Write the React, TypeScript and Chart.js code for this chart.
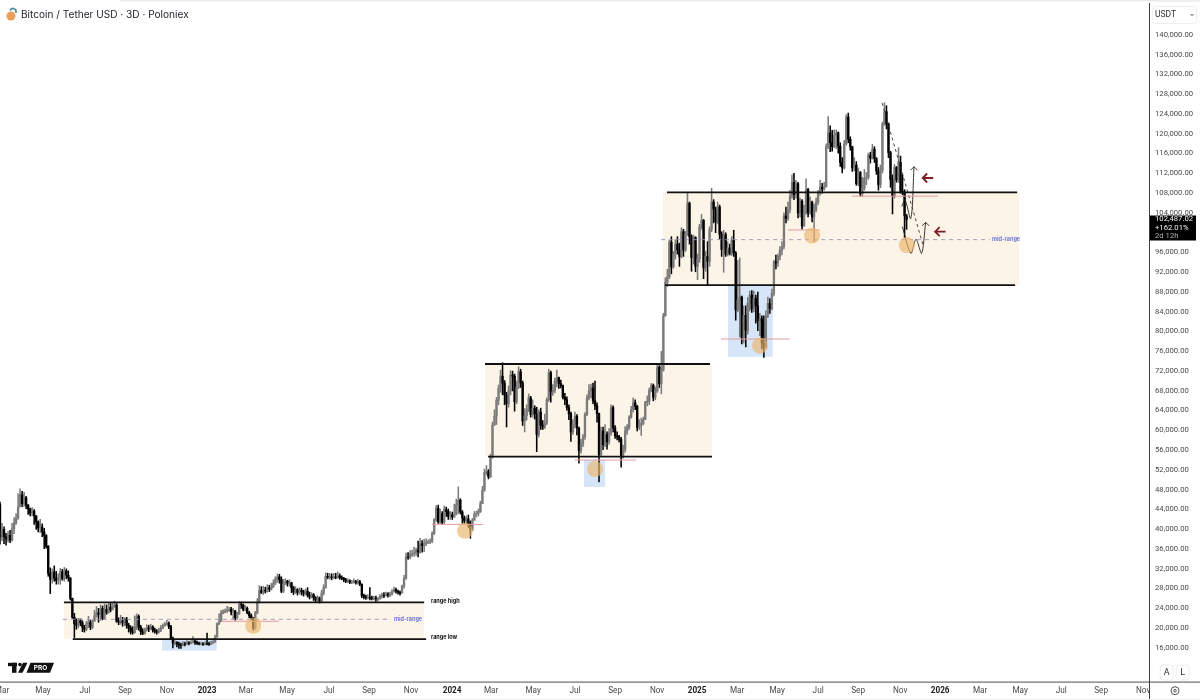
import React, { useRef, useEffect } from 'react';
import { Chart, registerables } from 'chart.js';

Chart.register(...registerables);

// BTCUSDT 3D candles. Opens are the previous close.
const firstOpen = 44800;
const closes = [
  38200, 39800, 38300, 37800, 38600, 37600, 39900, 41100, 42100, 44300,
  46800, 45000, 46200, 44700, 43900, 43100, 43500, 42500, 41300, 40100,
  40300, 39300, 38600, 36400, 30900, 29700, 31200, 29900, 29400, 30100,
  31200, 29800, 31400, 30500, 30000, 25800, 22000, 20700, 20400, 21300,
  20900, 20000, 19600, 20700, 21000, 20000, 21200, 22300, 22900, 22600,
  23800, 21800, 23600, 23000, 24000, 23500, 24300, 24500, 21200, 21000,
  21300, 20900, 21700, 20400, 19800, 19200, 18900, 20100, 22200, 20000,
  19100, 18700, 19400, 19900, 19700, 20100, 19400, 19200, 19000, 19300,
  19800, 20300, 20600, 20800, 20100, 17800, 16800, 16900, 16600, 16400,
  16300, 16600, 16500, 16900, 16700, 16900, 17200, 17000, 16700, 16600,
  16600, 16500, 16700, 16600, 16500, 16800, 17000, 18000, 20700, 21100,
  22900, 23100, 23300, 23400, 23600, 23100, 23300, 21900, 22700, 24600,
  24500, 23600, 23800, 22900, 22300, 21800, 19900, 22900, 25000, 27400,
  27000, 27500, 27300, 28000, 27700, 28200, 28900, 29800, 30200, 29600,
  27300, 28700, 29300, 28900, 29000, 28000, 27100, 27600, 27000, 27400,
  27200, 26800, 27300, 26500, 26100, 26600, 26000, 25500, 25900, 25300,
  26900, 28000, 30300, 30100, 30200, 30000, 30200, 30100, 30400, 30000,
  29900, 29600, 29300, 29400, 29100, 29200, 29300, 29000, 29200, 28700,
  26400, 26100, 26000, 26000, 25900, 25800, 25900, 25700, 25800, 26200,
  26500, 26400, 26700, 26500, 26600, 27200, 27600, 27300, 27100, 26900,
  28300, 29900, 34200, 34100, 34700, 34900, 35000, 35600, 35200, 36900,
  36500, 36900, 37200, 37300, 37400, 39000, 41700, 44100, 41300, 43000,
  41200, 43800, 43400, 42400, 42700, 42300, 42900, 44800, 45700, 43300,
  42100, 41500, 41900, 40800, 39700, 41700, 42900, 43000, 43400, 45000,
  47700, 51300, 51500, 50400, 54400, 60900, 62700, 65900, 68300, 70800,
  69400, 67000, 65200, 67800, 71000, 70800, 65600, 68500, 71700, 69400,
  61700, 62800, 64000, 66400, 63000, 64300, 63200, 59000, 63500, 60900,
  60500, 61300, 66000, 71500, 67600, 67900, 69800, 70500, 69300, 68900,
  66500, 66000, 64500, 63200, 59500, 61000, 62700, 60300, 55700, 57000,
  58500, 63000, 66400, 67800, 68400, 65800, 64800, 63200, 54900, 59700,
  56900, 59000, 57500, 59300, 64400, 60300, 58700, 58500, 58000, 54800,
  56000, 59700, 60400, 62500, 64000, 65400, 64700, 60400, 60900, 61200,
  62000, 65500, 65700, 67900, 68900, 66500, 67800, 72600, 69300, 72000,
  83000, 89800, 90900, 97900, 92900, 95500, 97500, 96300, 95000, 100000,
  96300, 99500, 105800, 99000, 94800, 98800, 93000, 94500, 101000, 102300,
  92700, 95000, 94000, 100500, 106000, 104600, 102000, 105000, 99500, 96400,
  99400, 95400, 96700, 95600, 98300, 95700, 84200, 86200, 86800, 78500,
  83100, 80000, 85500, 87200, 84400, 86500, 85000, 82000, 82400, 77500,
  76700, 83000, 85500, 84500, 87500, 93900, 93700, 95000, 96300, 97000,
  103200, 102700, 104500, 107200, 110000, 107500, 109700, 103800, 106200, 101200,
  103800, 108500, 103800, 106000, 103000, 104500, 106000, 107800, 109000, 108600,
  109100, 117200, 120000, 118000, 117200, 119500, 120000, 117300, 114000, 112900,
  117800, 123200, 118700, 117200, 112900, 113500, 109700, 112000, 107700, 108800,
  110800, 111000, 115500, 114900, 116700, 114800, 112300, 109500, 112500, 121800,
  124300, 121800, 116000, 110600, 107200, 113000, 110500, 114000, 108200, 108000,
  103200, 102487,
];
const highs = [
  45300, 41000, 40300, 39000, 39400, 39600, 41000, 42200, 43000, 47000,
  48000, 47500, 47300, 46500, 44800, 44100, 44200, 43800, 42600, 41500,
  41800, 40900, 40000, 38700, 36500, 32000, 31800, 32400, 31300, 30800,
  31900, 31700, 32100, 31800, 31400, 30000, 25900, 22800, 21700, 21800,
  21700, 21300, 20400, 21200, 22200, 21400, 21500, 23400, 24200, 23800,
  24500, 24300, 24700, 24500, 24900, 24800, 25000, 25300, 24800, 21900,
  22400, 22000, 21900, 22000, 20800, 20300, 20100, 22300, 22700, 22500,
  20400, 19700, 19800, 20500, 20400, 20600, 20300, 19800, 19500, 19800,
  20400, 20700, 21000, 21400, 21100, 20400, 18000, 17300, 17100, 17000,
  16800, 17100, 17000, 17300, 17100, 17300, 18100, 17500, 17200, 17000,
  17000, 16900, 17100, 18800, 17000, 17200, 17300, 18400, 20900, 22700,
  23400, 23500, 23700, 24200, 24000, 24000, 23800, 23400, 23000, 25200,
  25100, 24700, 24400, 24100, 23200, 22700, 22000, 23200, 25800, 28400,
  28200, 28300, 28100, 28600, 28500, 28900, 29600, 30200, 30800, 30700,
  30200, 29700, 29800, 29500, 29600, 29100, 28300, 28200, 27800, 28000,
  27900, 27500, 27700, 28000, 27100, 27000, 26800, 26200, 26400, 26100,
  27500, 28600, 31000, 30900, 30900, 30800, 30900, 30900, 31200, 30800,
  30400, 30100, 29900, 29800, 29600, 29500, 29800, 29500, 29700, 29500,
  28800, 26700, 26500, 26600, 28000, 26300, 26300, 26300, 26000, 26600,
  26900, 27000, 27100, 27000, 27100, 27600, 28100, 27900, 27500, 27300,
  28500, 30500, 35000, 35100, 35500, 35600, 36200, 36000, 37400, 38000,
  37500, 37800, 37900, 37700, 37900, 39300, 42000, 44600, 44700, 43900,
  43400, 44500, 44300, 43900, 43400, 43300, 44900, 45900, 48400, 46000,
  43600, 42500, 42500, 42700, 41500, 42000, 43400, 43500, 43900, 45500,
  48500, 52000, 52700, 51900, 55000, 61500, 64000, 66500, 69000, 72000,
  73500, 69900, 67500, 68800, 71900, 71800, 71200, 69800, 72700, 72200,
  69800, 64200, 65000, 67200, 66700, 66000, 64800, 64500, 64000, 64300,
  61800, 63100, 66400, 72200, 71800, 69100, 70400, 72000, 70600, 70000,
  69000, 67300, 66600, 65000, 63500, 62000, 63500, 63000, 60500, 58000,
  59000, 63400, 67000, 69100, 69200, 69400, 69800, 65400, 63300, 60500,
  60500, 61000, 59500, 60200, 65000, 64800, 60800, 59500, 58800, 58400,
  56800, 60600, 61000, 62800, 64700, 66400, 66000, 64900, 62000, 62300,
  62500, 65700, 66800, 68400, 69300, 69200, 68600, 73200, 72900, 75800,
  83500, 90700, 92400, 98300, 99000, 96000, 98400, 99000, 97700, 100800,
  100500, 100100, 108000, 106000, 99400, 99300, 99000, 95500, 101500, 103500,
  102500, 96000, 98000, 101000, 108800, 106500, 105000, 106000, 105400, 100000,
  100300, 99800, 98000, 97500, 99000, 100300, 96000, 94200, 94700, 87000,
  85000, 85000, 86700, 88000, 88100, 88000, 87200, 87800, 83500, 83000,
  83000, 84000, 86800, 86500, 88400, 94200, 95300, 95500, 97000, 98000,
  103800, 105000, 106000, 108400, 111500, 111800, 110400, 110000, 106800, 106500,
  105400, 110700, 108800, 107000, 106200, 105600, 106800, 108400, 110400, 109800,
  110000, 117800, 123300, 121400, 120500, 120600, 120600, 120200, 118000, 115000,
  118500, 123700, 124000, 119200, 117300, 115000, 114200, 112900, 112200, 111000,
  112600, 112000, 115900, 116100, 117700, 117200, 115000, 113000, 113500, 122200,
  126100, 125500, 122000, 116300, 111500, 113600, 113200, 117000, 115300, 111500,
  108500, 103500,
];
const lows = [
  36800, 37500, 36900, 36600, 37200, 37100, 37400, 38900, 40800, 41800,
  44600, 44400, 44500, 44000, 42800, 42500, 42500, 40800, 39800, 39300,
  39100, 38300, 35900, 36000, 30300, 26800, 28900, 29300, 28700, 28700,
  28700, 29500, 29300, 29800, 29300, 25500, 21800, 17900, 19600, 19900,
  20300, 19100, 19000, 19300, 19900, 19500, 19700, 21200, 22000, 21000,
  21400, 21500, 21700, 22600, 22800, 23100, 23600, 24000, 21000, 20500,
  20600, 20200, 20300, 19800, 19000, 18600, 18600, 18800, 19500, 19400,
  18500, 18500, 18600, 19200, 19100, 19500, 19000, 18800, 18600, 18800,
  19100, 19700, 20200, 20400, 19700, 17700, 15800, 16400, 16000, 15700,
  15700, 16200, 16200, 16500, 16400, 16600, 16800, 16500, 16500, 16400,
  16400, 16300, 16400, 16400, 16300, 16500, 16700, 16900, 18000, 20500,
  22700, 22700, 22900, 23000, 23200, 22500, 21700, 21400, 21600, 22600,
  23800, 23300, 23300, 22700, 21900, 21500, 19400, 19600, 22700, 24900,
  26800, 26600, 26900, 27100, 27200, 27500, 28000, 28600, 29100, 28900,
  27000, 27000, 28600, 28300, 28300, 27000, 26600, 26800, 26500, 26700,
  26500, 26300, 26500, 26100, 25700, 25900, 25400, 25100, 25200, 24900,
  25100, 26500, 27900, 29800, 29700, 29600, 29800, 29800, 29900, 29700,
  29600, 29200, 29000, 29000, 28800, 28800, 28900, 28700, 28700, 28400,
  26000, 25700, 25600, 25700, 25500, 25500, 25500, 25200, 25300, 25600,
  25900, 26000, 26300, 26100, 26200, 26500, 27100, 26900, 26700, 26500,
  26900, 27900, 29700, 33700, 33800, 34300, 34300, 34500, 34200, 35000,
  35200, 35300, 36500, 36900, 36900, 37100, 38700, 41400, 41000, 41000,
  40800, 41000, 42400, 41800, 41800, 41800, 42200, 42700, 43000, 42900,
  41000, 40900, 41000, 40200, 38000, 39500, 41600, 42300, 42500, 43200,
  45000, 47500, 50800, 50000, 50300, 54200, 60800, 61000, 65000, 67500,
  67000, 65000, 60500, 64500, 67000, 67800, 63700, 65200, 68300, 68500,
  60800, 59500, 61900, 63600, 62500, 62500, 62100, 55500, 58500, 60000,
  60000, 60200, 61000, 65700, 65500, 66900, 67400, 68600, 68300, 68400,
  66200, 65000, 63900, 62000, 57600, 59000, 60300, 58900, 53200, 55200,
  56500, 58000, 62800, 66000, 66400, 65200, 64000, 61500, 49400, 54500,
  55900, 56500, 56000, 57000, 58800, 59500, 58200, 57900, 57500, 52400,
  54200, 55400, 59000, 60000, 62300, 63500, 64000, 59700, 60000, 58800,
  60900, 62000, 64800, 65000, 67600, 65800, 66000, 67500, 68500, 67200,
  71800, 82900, 88900, 90500, 91500, 92600, 94500, 95500, 93000, 94700,
  95000, 96000, 99200, 97500, 92000, 93500, 91900, 90300, 93800, 100500,
  90500, 92000, 89200, 93000, 100000, 101800, 99800, 101600, 98500, 95000,
  91800, 95000, 95100, 95300, 95200, 95000, 82100, 83800, 78700, 77300,
  77500, 76700, 79300, 84000, 83700, 83800, 81500, 80000, 79000, 76300,
  74600, 76500, 82600, 83500, 84200, 87000, 92500, 93000, 94300, 95300,
  96500, 101800, 102300, 103800, 106800, 106500, 106800, 102800, 103000, 100500,
  101100, 103500, 103000, 103500, 102000, 98000, 104000, 105500, 107400, 107800,
  108400, 109000, 116800, 116200, 116300, 117000, 116800, 115900, 113200, 111900,
  112700, 117500, 118000, 116500, 112200, 112300, 109400, 109300, 107200, 107200,
  108400, 109500, 110600, 113900, 114700, 114000, 111600, 108400, 108900, 111900,
  121500, 120800, 115000, 109000, 103600, 106800, 110000, 110000, 107800, 107500,
  98800, 100500,
];

const priceTicks = [
  140000, 136000, 132000, 128000, 124000, 120000, 116000, 112000, 108000, 104000, 100000, 96000,
  92000, 88000, 84000, 80000, 76000, 72000, 68000, 64000, 60000, 56000, 52000, 48000, 44000, 40000,
  36000, 32000, 28000, 24000, 20000, 16000,
];
const timeLabels = [
  'Mar', 'May', 'Jul', 'Sep', 'Nov', '2023', 'Mar', 'May', 'Jul', 'Sep', 'Nov', '2024', 'Mar', 'May', 'Jul',
  'Sep', 'Nov', '2025', 'Mar', 'May', 'Jul', 'Sep', 'Nov', '2026', 'Mar', 'May', 'Jul', 'Sep', 'Nov',
];
// where those labels sit, counted in candles from the left edge
const timeTicks = [
  1, 21.4, 42.3, 62.2, 83.1, 103, 122.4, 142.8, 163.7, 183.6, 204.5, 224.9, 244.3, 265.2, 286,
  306, 326.9, 346.8, 366.7, 386.6, 407, 426.9, 447.8, 467.7, 487.6, 507.5, 527.9, 547.8, 568.7,
];

// drawings, in [candle, price] terms
const rangeBoxes = [
  [31.8, 211, 25030, 17610],
  [241.3, 354.1, 73240, 54490],
  [329.9, 507, 107980, 89220],
];
const rangeHighs = [[31.8, 211, 25030], [241.3, 353.2, 73240], [331.8, 506, 107980]];
const rangeLows = [[36.2, 212, 17610], [242.8, 354.2, 54490], [330.8, 505, 89220]];
const midRanges = [[31.3, 194.5, 21600], [328.9, 492.5, 98400]];
const blueBoxes = [
  [80.6, 107.8, 17550, 15260],
  [290.5, 301, 53820, 48360],
  [362.2, 384.4, 89220, 74700],
];
const redLines = [
  [110, 138.8, 21200],
  [214.9, 240.3, 40800],
  [286, 316.4, 53820],
  [358.7, 393, 78300],
  [392, 408, 100350],
  [423.9, 466.7, 107200],
];
const circles = [[126, 20300], [231.3, 39500], [296, 52000], [378.1, 76950], [404, 99200], [451.1, 97300]];
const dashedDrop = [[438.8, 126050], [459.4, 97000]];
const waveUpper = [[448.6, 105070], [450.2, 106400], [453.1, 102700], [454.7, 113150]];
const waveLower = [[448.9, 101020], [453.1, 95640], [455.7, 98470], [458.5, 95640], [460.5, 101900]];
const redArrows = [[459, 110870], [465.2, 100010]];
const notes = [
  ['range high', 214.4, 25300, 'left', 'black'],
  ['range low', 214.4, 18020, 'left', 'black'],
  ['mid-range', 210, 21600, 'right', 'blue'],
  ['mid-range', 507.5, 98400, 'right', 'blue'],
];

const opens = closes.map((c, i) => (i === 0 ? firstOpen : closes[i - 1]));
const candleColors = closes.map((c, i) => (c >= opens[i] ? '#7b7b7b' : '#000000'));
const uiFont = 'Inter, "Liberation Sans", sans-serif';
const axisFont = 'Roboto, "Liberation Sans", sans-serif';

const toLine = (pts: number[][], color: string, width: number, dash: number[] = [], tension = 0) => ({
  type: 'line' as const,
  data: pts.map(([x, y]) => ({ x, y })),
  borderColor: color,
  borderWidth: width,
  borderDash: dash,
  pointRadius: 0,
  tension,
  order: 0,
});
const hLine = (l: number[], color: string, width: number, dash: number[] = []) =>
  toLine([[l[0], l[2]], [l[1], l[2]]], color, width, dash);

// chart.js keeps room for the outermost tick labels unless these are cleared
const noLabelRoom = (axis: any) => {
  axis.paddingLeft = 0;
  axis.paddingRight = 0;
  axis.paddingTop = 0;
  axis.paddingBottom = 0;
};

const drawingsPlugin = {
  id: 'drawings',
  beforeDatasetsDraw(chart: any) {
    const { ctx, scales } = chart;
    const { x, y } = scales;
    ctx.save();
    ctx.fillStyle = '#fdf4e8';
    rangeBoxes.forEach((b) => {
      ctx.fillRect(x.getPixelForValue(b[0]), y.getPixelForValue(b[2]), x.getPixelForValue(b[1]) - x.getPixelForValue(b[0]), y.getPixelForValue(b[3]) - y.getPixelForValue(b[2]));
    });
    ctx.fillStyle = '#d6e6f8';
    blueBoxes.forEach((b) => {
      ctx.fillRect(x.getPixelForValue(b[0]), y.getPixelForValue(b[2]), x.getPixelForValue(b[1]) - x.getPixelForValue(b[0]), y.getPixelForValue(b[3]) - y.getPixelForValue(b[2]));
    });
    ctx.restore();
  },
  afterDatasetsDraw(chart: any) {
    const { ctx, scales } = chart;
    const { x, y } = scales;
    ctx.save();

    ctx.fillStyle = 'rgba(236, 180, 108, 0.66)';
    circles.forEach((c) => {
      ctx.beginPath();
      ctx.arc(x.getPixelForValue(c[0]), y.getPixelForValue(c[1]), 8, 0, Math.PI * 2);
      ctx.fill();
    });

    // arrow heads on the projected moves
    ctx.strokeStyle = '#222222';
    ctx.lineWidth = 0.9;
    [waveUpper, waveLower].forEach((w) => {
      const tip = w[w.length - 1];
      const px = x.getPixelForValue(tip[0]);
      const py = y.getPixelForValue(tip[1]);
      ctx.beginPath();
      ctx.moveTo(px - 3.5, py + 3.5);
      ctx.lineTo(px, py);
      ctx.lineTo(px + 3.5, py + 3.5);
      ctx.stroke();
    });

    // the two maroon arrows
    ctx.strokeStyle = '#7d1f2b';
    ctx.lineWidth = 1.8;
    redArrows.forEach((a) => {
      const px = x.getPixelForValue(a[0]);
      const py = y.getPixelForValue(a[1]);
      ctx.beginPath();
      ctx.moveTo(px + 10.5, py);
      ctx.lineTo(px, py);
      ctx.moveTo(px + 4.5, py - 4.5);
      ctx.lineTo(px, py);
      ctx.lineTo(px + 4.5, py + 4.5);
      ctx.stroke();
    });

    ctx.textBaseline = 'middle';
    notes.forEach((n) => {
      ctx.font = `700 5.5px ${uiFont}`;
      ctx.fillStyle = n[4] === 'blue' ? '#6a79d6' : '#111111';
      ctx.textAlign = n[3];
      ctx.fillText(n[0], x.getPixelForValue(n[1]), y.getPixelForValue(n[2]));
    });
    ctx.restore();
  },
  afterDraw(chart: any) {
    const { ctx } = chart;
    ctx.save();

    // frame of the price and time panes
    ctx.fillStyle = '#ececec';
    ctx.fillRect(120, 0, 1080, 1.5);
    ctx.fillRect(0, 699, 1200, 1);
    ctx.fillStyle = '#6d6d6d';
    ctx.fillRect(0, 681.5, 1200, 1.2);
    ctx.fillStyle = '#3c3c3c';
    ctx.fillRect(1149, 3, 1, 696);

    // title
    ctx.beginPath();
    ctx.fillStyle = '#e8a15a';
    ctx.arc(11, 16, 4.5, 0, Math.PI * 2);
    ctx.fill();
    ctx.beginPath();
    ctx.strokeStyle = '#3f8ea0';
    ctx.lineWidth = 1.6;
    ctx.arc(13, 11.5, 3, -Math.PI * 0.9, Math.PI * 0.15);
    ctx.stroke();
    ctx.textBaseline = 'middle';
    ctx.textAlign = 'left';
    ctx.fillStyle = '#1d2029';
    ctx.font = `400 10.1px ${uiFont}`;
    ctx.fillText('Bitcoin / Tether USD · 3D · Poloniex', 21, 14.5);

    // currency box
    ctx.strokeStyle = '#eeeeee';
    ctx.lineWidth = 1;
    ctx.beginPath();
    ctx.roundRect(1152.5, 6.5, 44, 17, 3);
    ctx.stroke();
    ctx.fillStyle = '#333333';
    ctx.font = `400 8.5px ${axisFont}`;
    ctx.fillText('USDT', 1155, 15);
    ctx.strokeStyle = '#444444';
    ctx.beginPath();
    ctx.moveTo(1190.5, 14);
    ctx.lineTo(1192, 15.5);
    ctx.lineTo(1193.5, 14);
    ctx.stroke();

    // last price tag
    ctx.fillStyle = '#000000';
    ctx.fillRect(1150, 215.5, 46, 25);
    ctx.font = `400 7.7px ${axisFont}`;
    ctx.fillStyle = '#f2f2f2';
    ctx.fillText('102,487.02', 1155, 219.5);
    ctx.fillText('+162.01%', 1155, 227.8);
    ctx.fillStyle = '#b5b5b5';
    ctx.fillText('2d 12h', 1155, 236);

    // A and L buttons
    ctx.strokeStyle = '#eeeeee';
    ['A', 'L'].forEach((t, i) => {
      const cx = 1166.7 + i * 16;
      ctx.beginPath();
      ctx.roundRect(cx - 6.5, 665, 13, 15, 3);
      ctx.stroke();
      ctx.fillStyle = '#333333';
      ctx.textAlign = 'center';
      ctx.font = `400 9px ${axisFont}`;
      ctx.fillText(t, cx, 672.5);
    });

    // settings icon
    ctx.strokeStyle = '#444444';
    ctx.lineWidth = 0.9;
    ctx.beginPath();
    ctx.arc(1175, 690.7, 4, 0, Math.PI * 2);
    ctx.stroke();
    ctx.beginPath();
    ctx.arc(1175, 690.7, 1.3, 0, Math.PI * 2);
    ctx.stroke();

    // TradingView mark
    ctx.fillStyle = '#111111';
    ctx.fillRect(8, 662.8, 9, 3.4);
    ctx.fillRect(12, 662.8, 4.5, 10);
    ctx.beginPath();
    ctx.arc(20, 664.6, 1.8, 0, Math.PI * 2);
    ctx.fill();
    ctx.beginPath();
    ctx.moveTo(23, 662.8);
    ctx.lineTo(27.5, 662.8);
    ctx.lineTo(22.5, 672.8);
    ctx.lineTo(18, 672.8);
    ctx.closePath();
    ctx.fill();
    ctx.beginPath();
    ctx.moveTo(30.5, 662.8);
    ctx.lineTo(54, 662.8);
    ctx.lineTo(50, 672.8);
    ctx.lineTo(26.5, 672.8);
    ctx.closePath();
    ctx.fill();
    ctx.fillStyle = '#ffffff';
    ctx.textAlign = 'center';
    ctx.font = `700 6.5px ${uiFont}`;
    ctx.fillText('PRO', 40.5, 668);
    ctx.restore();
  },
};

const App: React.FC = () => {
  const canvasRef = useRef<HTMLCanvasElement>(null);

  useEffect(() => {
    document.body.style.margin = '0';
    if (!canvasRef.current) return;

    const chart = new Chart(canvasRef.current, {
      type: 'bar',
      data: {
        datasets: [
          ...rangeHighs.map((l) => hLine(l, '#111111', 1.8)),
          ...rangeLows.map((l) => hLine(l, '#111111', 1.8)),
          ...midRanges.map((l) => hLine(l, '#8d93bd', 0.9, [4, 4])),
          ...redLines.map((l) => hLine(l, '#e39aa0', 1)),
          toLine(dashedDrop, '#333333', 0.9, [3, 3]),
          toLine(waveUpper, '#222222', 0.9, [], 0.35),
          toLine(waveLower, '#222222', 0.9, [], 0.3),
          {
            type: 'bar' as const,
            data: closes.map((c, i) => ({ x: i, y: [opens[i], c] })),
            backgroundColor: candleColors,
            barThickness: 1.7,
            grouped: false,
            order: 1,
          },
          {
            type: 'bar' as const,
            data: closes.map((c, i) => ({ x: i, y: [lows[i], highs[i]] })),
            backgroundColor: candleColors,
            barThickness: 0.9,
            grouped: false,
            order: 2,
          },
        ] as any,
      },
      options: {
        animation: false,
        responsive: false,
        layout: { padding: 0, autoPadding: false },
        plugins: { legend: { display: false }, tooltip: { enabled: false } },
        scales: {
          x: {
            type: 'linear',
            offset: false,
            min: 0,
            max: 571.6,
            border: { display: false },
            grid: { display: false, drawTicks: false },
            afterFit: (axis: any) => {
              axis.height = 18;
              noLabelRoom(axis);
            },
            afterBuildTicks: (axis: any) => {
              axis.ticks = timeTicks.map((value) => ({ value }));
            },
            ticks: {
              autoSkip: false,
              maxRotation: 0,
              padding: 4.5,
              color: (ctx: any) => (/^20/.test(timeLabels[ctx.index]) ? '#1c1c1c' : '#4a4a4a'),
              font: (ctx: any) => ({
                family: axisFont,
                size: 8.2,
                weight: /^20/.test(timeLabels[ctx.index]) ? 700 : 400,
              }),
              callback: (_v: any, i: number) => timeLabels[i],
            },
          },
          y: {
            type: 'linear',
            position: 'right',
            min: 8917,
            max: 146878,
            border: { display: false },
            grid: { display: false, drawTicks: false },
            afterFit: (axis: any) => {
              axis.width = 51;
              noLabelRoom(axis);
            },
            afterBuildTicks: (axis: any) => {
              axis.ticks = priceTicks.map((value) => ({ value }));
            },
            ticks: {
              padding: 6,
              labelOffset: 0.8,
              color: '#4a4a4a',
              font: { family: axisFont, size: 7.7 },
              callback: (v: any) => Number(v).toLocaleString('en-US', { minimumFractionDigits: 2 }),
            },
          },
        },
      },
      plugins: [drawingsPlugin],
    } as any);

    return () => {
      chart.destroy();
    };
  }, []);

  return <canvas ref={canvasRef} width={1200} height={700} style={{ display: 'block', width: 1200, height: 700 }} />;
};

export default App;
